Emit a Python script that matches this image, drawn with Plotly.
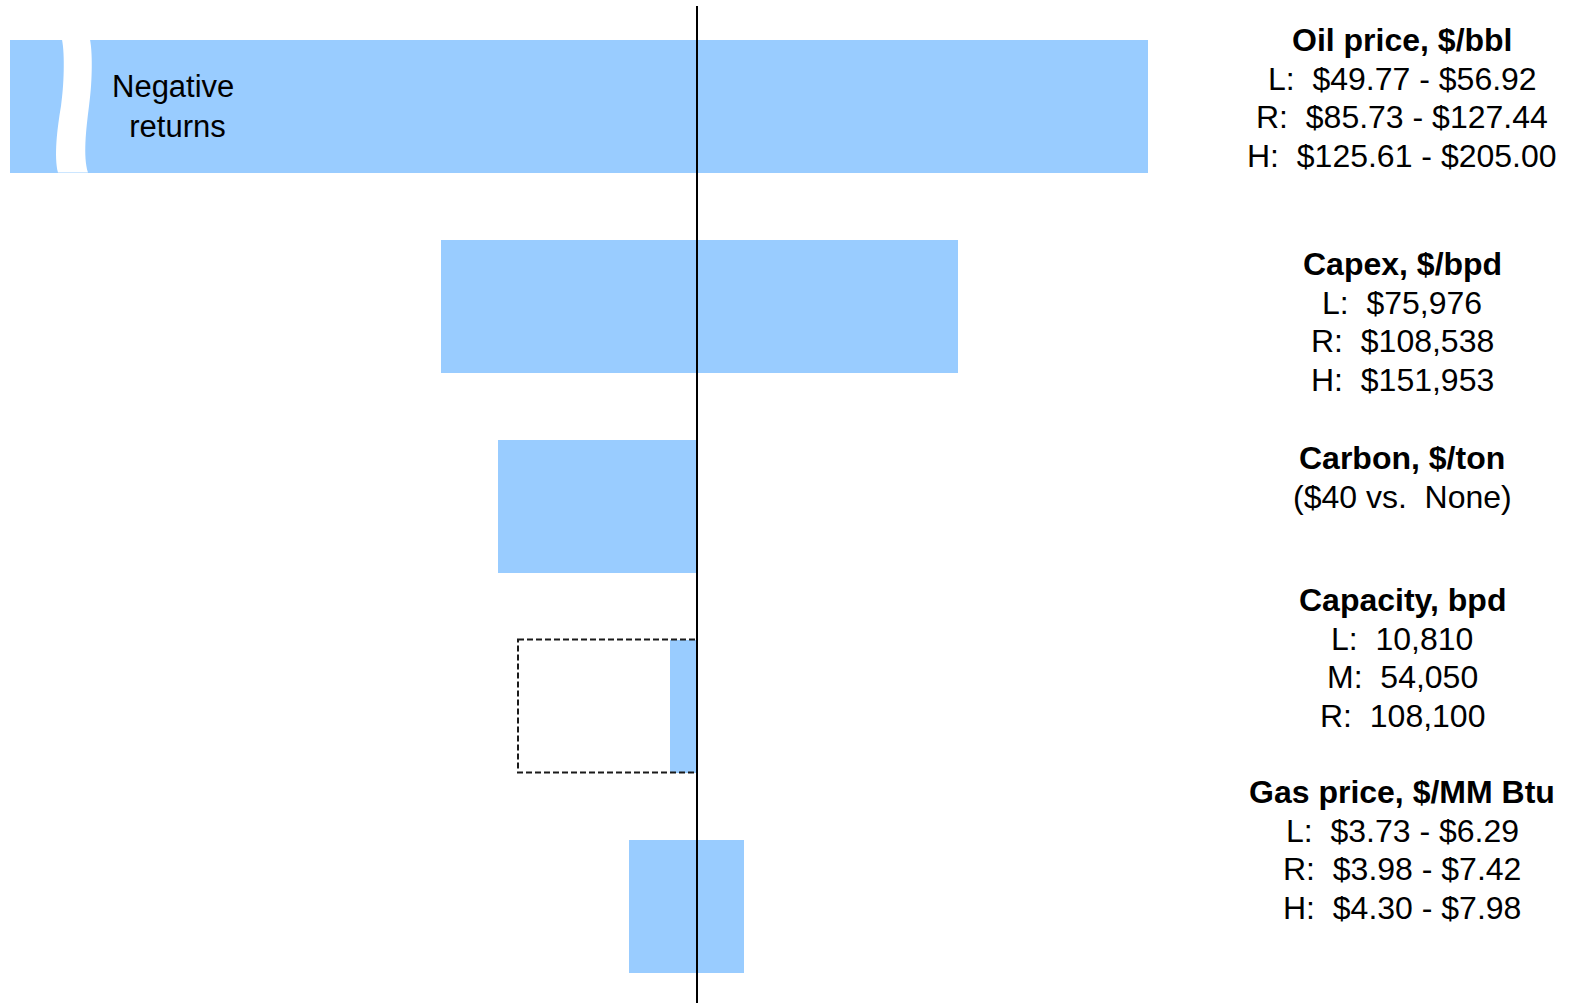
import plotly.graph_objects as go

# ---------------- data ----------------
categories = ["Oil price", "Capex", "Carbon", "Capacity", "Gas price"]
low_values = [-68.7, -25.6, -19.9, -2.7, -6.8]     # change vs. base case (left side)
high_values = [45.1, 26.1, 0.0, 0.0, 4.7]          # change vs. base case (right side)
capacity_alt_low = -17.9                            # dashed outline for capacity scenario

label_titles = ["Oil price, $/bbl", "Capex, $/bpd", "Carbon, $/ton",
                "Capacity, bpd", "Gas price, $/MM Btu"]
label_lines = [
    ["L:\u00a0 $49.77 - $56.92", "R:\u00a0 $85.73 - $127.44", "H:\u00a0 $125.61 - $205.00"],
    ["L:\u00a0 $75,976", "R:\u00a0 $108,538", "H:\u00a0 $151,953"],
    ["($40 vs.\u00a0 None)"],
    ["L:\u00a0 10,810", "M:\u00a0 54,050", "R:\u00a0 108,100"],
    ["L:\u00a0 $3.73 - $6.29", "R:\u00a0 $3.98 - $7.42", "H:\u00a0 $4.30 - $7.98"],
]
label_first_offsets = [-0.33, -0.21, -0.24, -0.53, -0.57]
LINE_STEP = 0.1925

# ---------------- layout constants ----------------
W, H = 1570, 1003
X_RANGE = [-69.7, 87.3]
Y_RANGE = [4.485, -0.53]
BAR_W = 0.665
BAR_COLOR = "#99CCFF"
FONT = "Liberation Sans, Arial, sans-serif"

ypos = list(range(len(categories)))

fig = go.Figure()
fig.add_trace(go.Bar(y=ypos, x=low_values, orientation="h", width=BAR_W,
                     marker=dict(color=BAR_COLOR, line=dict(width=0)),
                     hoverinfo="skip", showlegend=False))
fig.add_trace(go.Bar(y=ypos, x=high_values, orientation="h", width=BAR_W,
                     marker=dict(color=BAR_COLOR, line=dict(width=0)),
                     hoverinfo="skip", showlegend=False))

# dashed outline for capacity alternative
ci = categories.index("Capacity")
fig.add_shape(type="rect", xref="x", yref="y",
              x0=capacity_alt_low, x1=0, y0=ci - BAR_W / 2, y1=ci + BAR_W / 2,
              line=dict(color="#1a1a1a", width=2, dash="6px,3px"),
              fillcolor="rgba(0,0,0,0)", layer="above")

# break mark (white wavy band) on the truncated oil bar
def px2x(px):
    return X_RANGE[0] + (X_RANGE[1] - X_RANGE[0]) * px / W

top = 0 - BAR_W / 2
bot = 0 + BAR_W / 2
def yy(f):
    return top + (bot - top) * f

path = f"M {px2x(62)},{yy(0.0)} "
path += f"C {px2x(65)},{yy(0.12)} {px2x(64)},{yy(0.35)} {px2x(61)},{yy(0.5)} "
path += f"C {px2x(57)},{yy(0.68)} {px2x(54)},{yy(0.88)} {px2x(58)},{yy(1.0)} "
path += f"L {px2x(88)},{yy(1.0)} "
path += f"C {px2x(83)},{yy(0.88)} {px2x(86)},{yy(0.68)} {px2x(89)},{yy(0.5)} "
path += f"C {px2x(92)},{yy(0.35)} {px2x(93)},{yy(0.12)} {px2x(90)},{yy(0.0)} Z"
fig.add_shape(type="path", xref="x", yref="y", path=path,
              fillcolor="white", line=dict(width=0), layer="above")

# center line
fig.add_shape(type="line", xref="x", yref="paper", x0=0, x1=0, y0=0, y1=1 - 6 / H,
              line=dict(color="black", width=2), layer="above")

# "Negative returns" note
fig.add_annotation(x=px2x(173), y=yy(0.5), xref="x", yref="y",
                   text="Negative<br> returns", showarrow=False,
                   font=dict(family=FONT, size=31, color="black"),
                   xanchor="center", yanchor="middle", align="center")

# right-side labels, one annotation per line
for i, (t, lines, off) in enumerate(zip(label_titles, label_lines, label_first_offsets)):
    rows = ["<b>" + t + "</b>"] + lines
    for k, row in enumerate(rows):
        fig.add_annotation(x=px2x(1402), y=i + off + k * LINE_STEP, xref="x", yref="y",
                           text=row, showarrow=False,
                           font=dict(family=FONT, size=32, color="black"),
                           xanchor="center", yanchor="middle", align="center")

fig.update_layout(
    width=W, height=H, margin=dict(l=0, r=0, t=0, b=0),
    paper_bgcolor="white", plot_bgcolor="white",
    barmode="overlay", bargap=0,
    xaxis=dict(range=X_RANGE, visible=False, fixedrange=True),
    yaxis=dict(range=Y_RANGE, visible=False, fixedrange=True),
)

fig.write_html("out.html", config={"displayModeBar": False},
               post_script="document.body.style.margin='0';")
